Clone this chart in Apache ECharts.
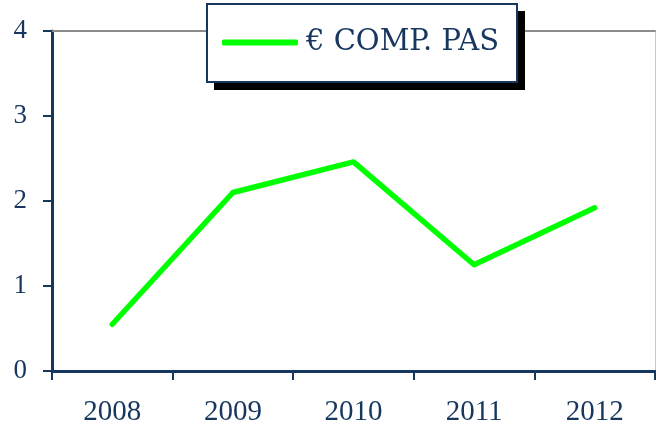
<!DOCTYPE html>
<html>
<head>
<meta charset="utf-8">
<script src="https://cdn.jsdelivr.net/npm/echarts@6/dist/echarts.min.js"></script>
<style>
  html, body { margin: 0; padding: 0; background: #fff; }
  #main { width: 656px; height: 443px; }
</style>
</head>
<body>
<div id="main"></div>
<script>
// data
var years = ['2008', '2009', '2010', '2011', '2012'];
var compPas = [0.55, 2.1, 2.46, 1.25, 1.92];
var seriesName = '€ COMP. PAS';

var navy = '#17375E';
var font = '"Liberation Serif", "DejaVu Serif", serif';

var chart = echarts.init(document.getElementById('main'));
chart.setOption({
  animation: false,
  backgroundColor: '#fff',
  textStyle: { fontFamily: font },
  grid: { left: 52, right: 1, top: 31, bottom: 72, containLabel: false },
  // legend frame with its hard black shadow
  graphic: [
    { type: 'rect', z: 10, shape: { x: 214, y: 11, width: 311, height: 79 }, style: { fill: '#000' } },
    { type: 'rect', z: 11, shape: { x: 207, y: 4, width: 310, height: 78 }, style: { fill: '#fff', stroke: navy, lineWidth: 2 } }
  ],
  legend: {
    z: 20,
    top: 28,
    left: 222,
    padding: 0,
    data: [seriesName],
    icon: 'roundRect',
    itemWidth: 76,
    itemHeight: 6,
    textStyle: { color: navy, fontSize: 29, fontFamily: '"DejaVu Serif", serif', padding: [0, 0, 0, 3] }
  },
  xAxis: [{
    type: 'category',
    data: years,
    boundaryGap: true,
    axisLine: { lineStyle: { color: navy, width: 3 } },
    axisTick: { show: true, length: 9, lineStyle: { color: navy, width: 2 } },
    axisLabel: { color: navy, fontSize: 29, margin: 27 },
    splitLine: { show: false }
  }, {
    type: 'category',
    data: years,
    position: 'top',
    axisLine: { show: true, onZero: false, lineStyle: { color: '#8c8c8c', width: 2 } },
    axisTick: { show: false },
    axisLabel: { show: false }
  }],
  yAxis: [{
    type: 'value',
    min: 0,
    max: 4,
    interval: 1,
    axisLine: { show: true, lineStyle: { color: navy, width: 3 } },
    axisTick: { show: true, length: 9, lineStyle: { color: navy, width: 2 } },
    axisLabel: { color: navy, fontSize: 27, margin: 25 },
    splitLine: { show: false }
  }, {
    type: 'value',
    min: 0,
    max: 4,
    interval: 1,
    position: 'right',
    axisLine: { show: true, onZero: false, lineStyle: { color: '#c8c8c8', width: 1 } },
    axisTick: { show: false },
    axisLabel: { show: false },
    splitLine: { show: false }
  }],
  series: [{
    name: seriesName,
    type: 'line',
    data: compPas,
    symbol: 'none',
    lineStyle: { color: '#00FF00', width: 5.5, cap: 'round', join: 'round' },
    itemStyle: { color: '#00FF00' }
  }]
});
</script>
</body>
</html>
